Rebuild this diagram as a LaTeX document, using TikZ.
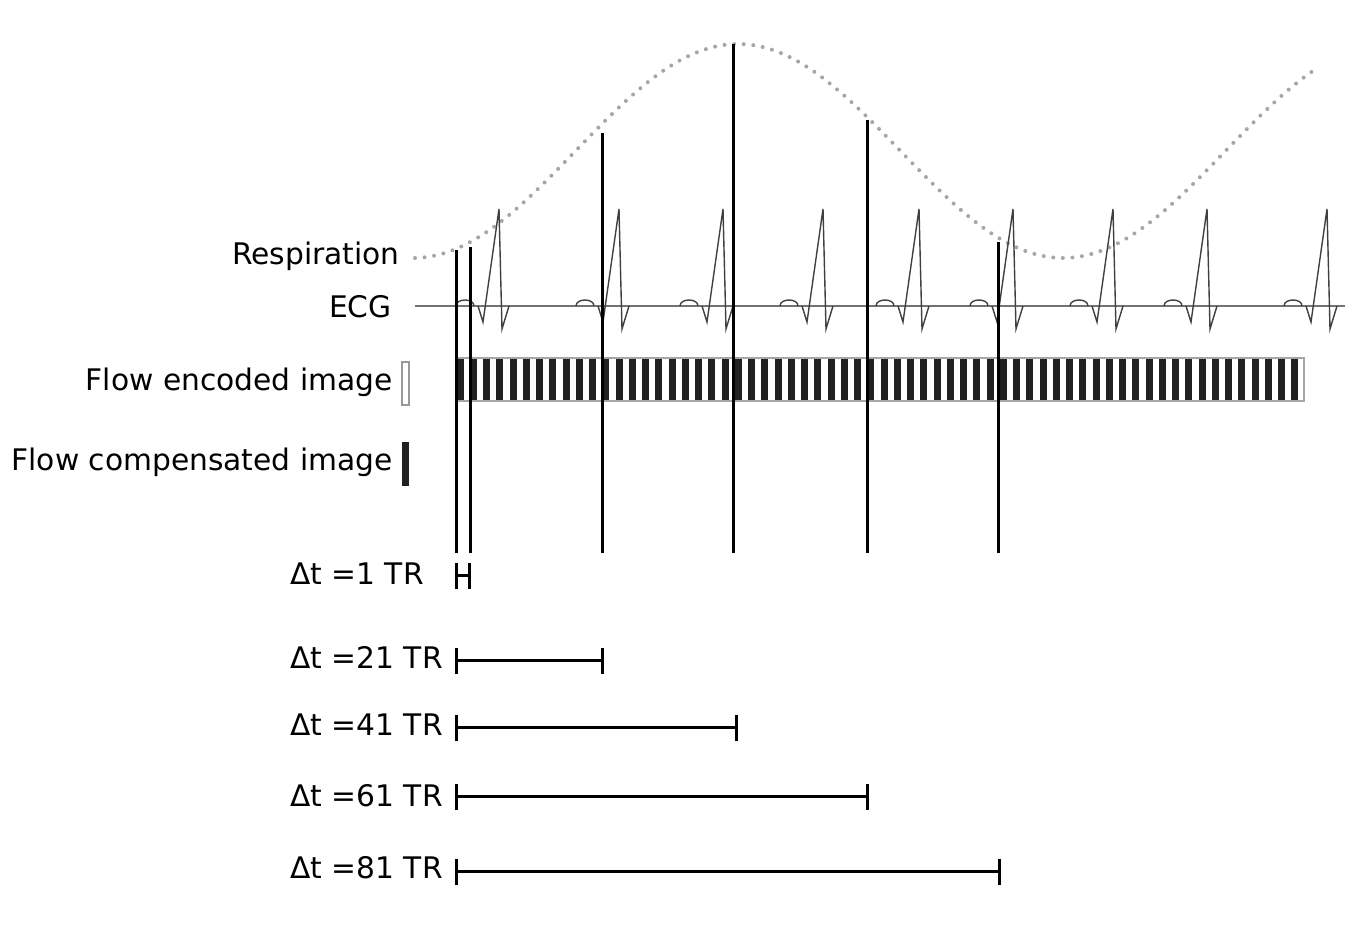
\documentclass[tikz,border=0pt]{standalone}
\usepackage{fontspec}
\setmainfont{DejaVu Sans}
\begin{document}
\begin{tikzpicture}[x=0.5pt,y=-0.5pt,
  lab/.style={font=\fontsize{14.85pt}{17pt}\selectfont, inner sep=0pt},
  resp/.style={draw=black!35, line width=2pt, line cap=round, dash pattern=on 0pt off 4.8pt},
  ecgbase/.style={draw=black!55, line width=0.9pt},
  ecgwave/.style={draw=black!75, line width=0.7pt, line join=miter},
  vline/.style={draw=black, line width=1.5pt},
  ivl/.style={draw=black, line width=1.5pt},
  stripe/.style={fill=black!87},
  barframe/.style={draw=black!35, line width=0.6pt}]
\useasboundingbox (0,0) rectangle (1372,929);

% respiration curve
\draw[resp] plot[domain=415:1318, samples=220] (\x, {151 - 107*cos((\x-738)*0.553846)});

% ECG baseline and beats
\coordinate (ecgL) at (415,306);
\coordinate (ecgR) at (1345,306);
\draw[ecgbase] (ecgL) -- (ecgR);
\foreach \R in {499,619,723,823,919,1013,1113,1207,1327}{
  \draw[ecgwave] (\R-43,306) .. controls (\R-43,298) and (\R-25,298) .. (\R-25,306)
    (\R-21,306) -- (\R-16,322) -- (\R,209) -- (\R+3,329) -- (\R+10,306);
}

% striped acquisition bar
\foreach \i in {0,...,63}{
  \fill[stripe] ({456.5+13.25*\i},358) rectangle ++(7,43);
}
\draw[barframe] (456,358) rectangle (1304,401);

% legend boxes
\draw[draw=black!40, line width=0.6pt] (402,362) rectangle (409,405);
\fill[black!87] (402,442) rectangle (409,486);

% labels
\node[lab, anchor=base east] (resplab) at (400,265) {Respiration};
\node[lab, anchor=base east] (ecglab) at (392,318) {ECG};
\node[lab, anchor=base east] (felab) at (393,391) {Flow encoded image};
\node[lab, anchor=base east] (fclab) at (393,471) {Flow compensated image};

% vertical markers
\foreach \n/\x/\t in {a/456/250, b/470/247, c/602/133, d/733/44, e/867/120, f/998/242}{
  \coordinate (\n top) at (\x,\t);
  \coordinate (\n bot) at (\x,553);
  \draw[vline] (\n top) -- (\n bot);
}

% interval labels
\node[lab, anchor=base west] (d1) at (290,585) {Δt =1 TR};
\node[lab, anchor=base west] (d21) at (290,669) {Δt =21 TR};
\node[lab, anchor=base west] (d41) at (290,736) {Δt =41 TR};
\node[lab, anchor=base west] (d61) at (290,807) {Δt =61 TR};
\node[lab, anchor=base west] (d81) at (290,879) {Δt =81 TR};

% interval bars
\foreach \n/\xa/\xb/\y in {i1/456/469/576, i21/456/602/661, i41/456/736/728, i61/456/867/797, i81/456/999/872}{
  \coordinate (\n s) at (\xa,\y);
  \coordinate (\n e) at (\xb,\y);
  \draw[ivl] (\n s) -- (\n e);
  \draw[ivl] ([yshift=6.5pt]\n s) -- ([yshift=-6.5pt]\n s);
  \draw[ivl] ([yshift=6.5pt]\n e) -- ([yshift=-6.5pt]\n e);
}
\end{tikzpicture}
\end{document}
